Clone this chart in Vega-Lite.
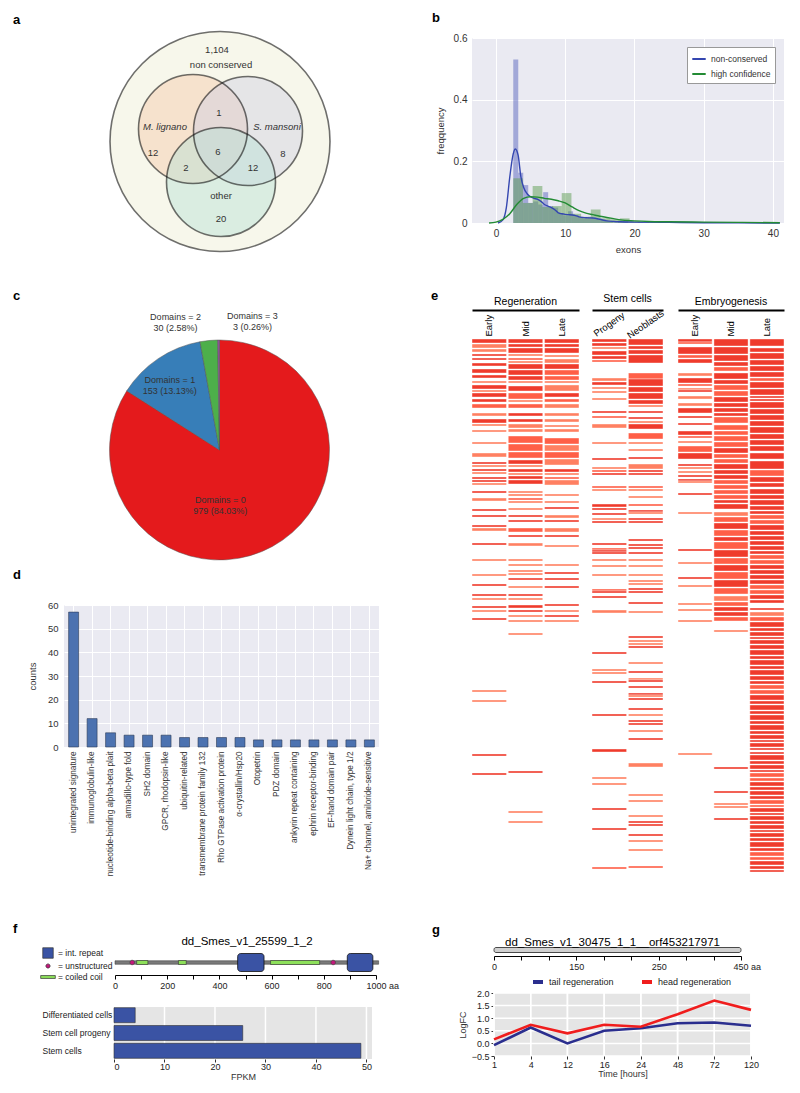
{
"$schema": "https://vega.github.io/schema/vega-lite/v6.json",
"background": "white",
"padding": {"left": 13, "top": 12, "right": 0, "bottom": 0},
"datasets": {
"venn": [{"set":"all","cx":120,"cy":113.5,"r":110},{"set":"M","cx":93,"cy":101,"r":54.5},{"set":"S","cx":148,"cy":103,"r":54.5},{"set":"O","cx":121,"cy":154,"r":54.5}],
"vennlab": [{"t":"1,104","x":117,"y":22,"kind":"count"},{"t":"non conserved","x":121,"y":37,"kind":"count"},{"t":"M. lignano","x":65,"y":99,"kind":"species"},{"t":"S. mansoni","x":177,"y":99,"kind":"species"},{"t":"12","x":53,"y":125,"kind":"count"},{"t":"1","x":119,"y":85,"kind":"count"},{"t":"6","x":118,"y":124,"kind":"count"},{"t":"8","x":183,"y":126,"kind":"count"},{"t":"2","x":86,"y":140,"kind":"count"},{"t":"12","x":153,"y":140,"kind":"count"},{"t":"other","x":121,"y":168,"kind":"count"},{"t":"20","x":121,"y":191,"kind":"count"}],
"hist": [
{"s":"non-conserved","x0":2.5,"x1":3.22,"f":0.53},{"s":"non-conserved","x0":3.22,"x1":3.94,"f":0.163},{"s":"non-conserved","x0":3.94,"x1":4.66,"f":0.123},{"s":"non-conserved","x0":4.66,"x1":5.38,"f":0.065},{"s":"non-conserved","x0":5.38,"x1":6.1,"f":0.07},{"s":"non-conserved","x0":6.1,"x1":6.82,"f":0.06},{"s":"non-conserved","x0":6.82,"x1":7.54,"f":0.1},{"s":"non-conserved","x0":7.54,"x1":8.26,"f":0.055},{"s":"non-conserved","x0":8.26,"x1":8.98,"f":0.05},{"s":"non-conserved","x0":8.98,"x1":9.7,"f":0.03},{"s":"non-conserved","x0":9.7,"x1":10.42,"f":0.025},{"s":"non-conserved","x0":10.42,"x1":11.14,"f":0.038},{"s":"non-conserved","x0":11.14,"x1":11.86,"f":0.025},{"s":"non-conserved","x0":11.86,"x1":12.58,"f":0.02},{"s":"non-conserved","x0":12.58,"x1":13.3,"f":0.015},{"s":"non-conserved","x0":13.3,"x1":14.02,"f":0.02},{"s":"non-conserved","x0":14.02,"x1":14.74,"f":0.015},{"s":"non-conserved","x0":14.74,"x1":15.46,"f":0.01},{"s":"non-conserved","x0":15.46,"x1":16.18,"f":0.008},{"s":"non-conserved","x0":16.18,"x1":16.9,"f":0.006},{"s":"non-conserved","x0":17.62,"x1":18.34,"f":0.005},{"s":"non-conserved","x0":18.34,"x1":19.06,"f":0.008},{"s":"non-conserved","x0":20.5,"x1":21.22,"f":0.003},{"s":"non-conserved","x0":24,"x1":24.72,"f":0.002},{"s":"non-conserved","x0":29.7,"x1":30.42,"f":0.002},{"s":"non-conserved","x0":35.5,"x1":36.2,"f":0.001},
{"s":"high confidence","x0":2.5,"x1":3.9,"f":0.145},{"s":"high confidence","x0":3.9,"x1":5.3,"f":0.065},{"s":"high confidence","x0":5.3,"x1":6.7,"f":0.12},{"s":"high confidence","x0":6.7,"x1":8.1,"f":0.052},{"s":"high confidence","x0":8.1,"x1":9.5,"f":0.055},{"s":"high confidence","x0":9.5,"x1":10.9,"f":0.097},{"s":"high confidence","x0":10.9,"x1":12.3,"f":0.03},{"s":"high confidence","x0":12.3,"x1":13.7,"f":0.02},{"s":"high confidence","x0":13.7,"x1":15.1,"f":0.044},{"s":"high confidence","x0":15.1,"x1":16.5,"f":0.015},{"s":"high confidence","x0":16.5,"x1":17.9,"f":0.012},{"s":"high confidence","x0":17.9,"x1":19.3,"f":0.015},{"s":"high confidence","x0":19.3,"x1":20.7,"f":0.005},{"s":"high confidence","x0":20.7,"x1":22.1,"f":0.004},{"s":"high confidence","x0":23.5,"x1":24.9,"f":0.003},{"s":"high confidence","x0":27.7,"x1":29.1,"f":0.002},{"s":"high confidence","x0":33.3,"x1":34.7,"f":0.001},{"s":"high confidence","x0":39,"x1":40.4,"f":0.002}],
"kde": [
{"s":"non-conserved","x":0.3,"y":0},{"s":"non-conserved","x":1,"y":0.01},{"s":"non-conserved","x":1.5,"y":0.05},{"s":"non-conserved","x":2,"y":0.15},{"s":"non-conserved","x":2.5,"y":0.225},{"s":"non-conserved","x":2.8,"y":0.24},{"s":"non-conserved","x":3.2,"y":0.22},{"s":"non-conserved","x":3.6,"y":0.15},{"s":"non-conserved","x":4,"y":0.115},{"s":"non-conserved","x":4.5,"y":0.095},{"s":"non-conserved","x":5,"y":0.085},{"s":"non-conserved","x":5.5,"y":0.08},{"s":"non-conserved","x":6,"y":0.077},{"s":"non-conserved","x":6.5,"y":0.07},{"s":"non-conserved","x":7,"y":0.06},{"s":"non-conserved","x":7.5,"y":0.055},{"s":"non-conserved","x":8,"y":0.05},{"s":"non-conserved","x":8.5,"y":0.043},{"s":"non-conserved","x":9,"y":0.033},{"s":"non-conserved","x":9.5,"y":0.03},{"s":"non-conserved","x":10,"y":0.028},{"s":"non-conserved","x":10.5,"y":0.027},{"s":"non-conserved","x":11,"y":0.026},{"s":"non-conserved","x":11.5,"y":0.024},{"s":"non-conserved","x":12,"y":0.02},{"s":"non-conserved","x":13,"y":0.017},{"s":"non-conserved","x":14,"y":0.016},{"s":"non-conserved","x":15,"y":0.012},{"s":"non-conserved","x":16,"y":0.007},{"s":"non-conserved","x":17,"y":0.005},{"s":"non-conserved","x":18,"y":0.004},{"s":"non-conserved","x":20,"y":0.003},{"s":"non-conserved","x":25,"y":0.002},{"s":"non-conserved","x":30,"y":0.001},{"s":"non-conserved","x":35,"y":0.0005},{"s":"non-conserved","x":41,"y":0},
{"s":"high confidence","x":-1,"y":0},{"s":"high confidence","x":0,"y":0.003},{"s":"high confidence","x":1,"y":0.012},{"s":"high confidence","x":2,"y":0.03},{"s":"high confidence","x":3,"y":0.06},{"s":"high confidence","x":4,"y":0.08},{"s":"high confidence","x":5,"y":0.085},{"s":"high confidence","x":6,"y":0.084},{"s":"high confidence","x":7,"y":0.08},{"s":"high confidence","x":8,"y":0.077},{"s":"high confidence","x":9,"y":0.072},{"s":"high confidence","x":10,"y":0.065},{"s":"high confidence","x":11,"y":0.052},{"s":"high confidence","x":12,"y":0.04},{"s":"high confidence","x":13,"y":0.032},{"s":"high confidence","x":14,"y":0.027},{"s":"high confidence","x":15,"y":0.022},{"s":"high confidence","x":16,"y":0.018},{"s":"high confidence","x":17,"y":0.014},{"s":"high confidence","x":18,"y":0.01},{"s":"high confidence","x":20,"y":0.007},{"s":"high confidence","x":22,"y":0.005},{"s":"high confidence","x":25,"y":0.004},{"s":"high confidence","x":30,"y":0.003},{"s":"high confidence","x":35,"y":0.002},{"s":"high confidence","x":41,"y":0.001}],
"pie": [{"k":"Domains = 0","n":979,"lab":["Domains = 0","979 (84.03%)"]},{"k":"Domains = 1","n":153,"lab":["Domains = 1","153 (13.13%)"]},{"k":"Domains = 2","n":30,"lab":["Domains = 2","30 (2.58%)"]},{"k":"Domains = 3","n":3,"lab":["Domains = 3","3 (0.26%)"]}],
"dom": [{"name":"unintegrated signature","count":57},{"name":"immunoglobulin-like","count":12},{"name":"nucleotide-binding alpha-beta plait","count":6},{"name":"armadillo-type fold","count":5},{"name":"SH2 domain","count":5},{"name":"GPCR, rhodopsin-like","count":5},{"name":"ubiquitin-related","count":4},{"name":"transmembrane protein family 132","count":4},{"name":"Rho GTPase activation protein","count":4},{"name":"α-crystallin/Hsp20","count":4},{"name":"Otopetrin","count":3},{"name":"PDZ domain","count":3},{"name":"ankyrin repeat containing","count":3},{"name":"ephrin receptor-binding","count":3},{"name":"EF-hand domain pair","count":3},{"name":"Dynein light chain, type 1/2","count":3},{"name":"Na+ channel, amiloride-sensitive","count":3}],
"prot": [{"track":"p","kind":"backbone","s":0,"e":1010},{"track":"p","kind":"int. repeat","s":470,"e":571},{"track":"p","kind":"int. repeat","s":890,"e":988},{"track":"p","kind":"coiled coil","s":83,"e":126},{"track":"p","kind":"coiled coil","s":243,"e":273},{"track":"p","kind":"coiled coil","s":596,"e":784},{"track":"p","kind":"unstructured","s":66},{"track":"p","kind":"unstructured","s":836}],
"fpkm": [{"cell":"Differentiated cells","fpkm":4.2},{"cell":"Stem cell progeny","fpkm":25.5},{"cell":"Stem cells","fpkm":48.9}],
"fgrid": [{"v":10},{"v":20},{"v":30},{"v":40},{"v":50}],
"prot2": [{"track":"p","s":0,"e":450}],
"lfy": [{"y":-0.5},{"y":0},{"y":0.5},{"y":1},{"y":1.5},{"y":2}],
"logfc": [{"s":"tail regeneration","t":1,"fc":-0.07},{"s":"tail regeneration","t":4,"fc":0.63},{"s":"tail regeneration","t":12,"fc":0.0},{"s":"tail regeneration","t":16,"fc":0.5},{"s":"tail regeneration","t":24,"fc":0.6},{"s":"tail regeneration","t":48,"fc":0.8},{"s":"tail regeneration","t":72,"fc":0.83},{"s":"tail regeneration","t":120,"fc":0.7},{"s":"head regeneration","t":1,"fc":0.16},{"s":"head regeneration","t":4,"fc":0.74},{"s":"head regeneration","t":12,"fc":0.4},{"s":"head regeneration","t":16,"fc":0.74},{"s":"head regeneration","t":24,"fc":0.66},{"s":"head regeneration","t":48,"fc":1.16},{"s":"head regeneration","t":72,"fc":1.7},{"s":"head regeneration","t":120,"fc":1.33}],
"hm": [
{"g":"R","c":"Early","a":0,"b":4,"v":1},{"g":"R","c":"Early","a":5,"b":9,"v":0.5},{"g":"R","c":"Early","a":10,"b":13,"v":0.5},{"g":"R","c":"Early","a":15,"b":17,"v":1},{"g":"R","c":"Early","a":19,"b":21,"v":1},{"g":"R","c":"Early","a":24,"b":27,"v":1},{"g":"R","c":"Early","a":30,"b":34,"v":1},{"g":"R","c":"Early","a":36,"b":39,"v":1},{"g":"R","c":"Early","a":42,"b":44,"v":0.5},{"g":"R","c":"Early","a":46,"b":50,"v":1},{"g":"R","c":"Early","a":51,"b":53,"v":0.5},{"g":"R","c":"Early","a":54,"b":58,"v":1},{"g":"R","c":"Early","a":60,"b":63,"v":1},{"g":"R","c":"Early","a":65,"b":69,"v":0.75},{"g":"R","c":"Early","a":74,"b":77,"v":0.5},{"g":"R","c":"Early","a":80,"b":84,"v":1},{"g":"R","c":"Early","a":85,"b":87,"v":0.5},{"g":"R","c":"Early","a":91,"b":93,"v":0.5},{"g":"R","c":"Early","a":103,"b":105,"v":0.5},{"g":"R","c":"Early","a":114,"b":118,"v":0.5},{"g":"R","c":"Early","a":123,"b":125,"v":1},{"g":"R","c":"Early","a":126,"b":128,"v":0.5},{"g":"R","c":"Early","a":130,"b":132,"v":1},{"g":"R","c":"Early","a":133,"b":135,"v":0.5},{"g":"R","c":"Early","a":138,"b":140,"v":1},{"g":"R","c":"Early","a":141,"b":143,"v":1},{"g":"R","c":"Early","a":144,"b":146,"v":0.5},{"g":"R","c":"Early","a":152,"b":154,"v":1},{"g":"R","c":"Early","a":159,"b":162,"v":0.5},{"g":"R","c":"Early","a":170,"b":172,"v":1},{"g":"R","c":"Early","a":176,"b":178,"v":1},{"g":"R","c":"Early","a":186,"b":188,"v":1},{"g":"R","c":"Early","a":189,"b":192,"v":0.5},{"g":"R","c":"Early","a":204,"b":206,"v":1},{"g":"R","c":"Early","a":220,"b":222,"v":0.5},{"g":"R","c":"Early","a":235,"b":237,"v":0.5},{"g":"R","c":"Early","a":245,"b":247,"v":1},{"g":"R","c":"Early","a":255,"b":257,"v":1},{"g":"R","c":"Early","a":259,"b":261,"v":0.5},{"g":"R","c":"Early","a":267,"b":269,"v":1},{"g":"R","c":"Early","a":271,"b":273,"v":0.5},{"g":"R","c":"Early","a":279,"b":281,"v":1},{"g":"R","c":"Early","a":351,"b":353,"v":0.5},{"g":"R","c":"Early","a":361,"b":363,"v":0.5},{"g":"R","c":"Early","a":415,"b":417,"v":1},{"g":"R","c":"Early","a":434,"b":436,"v":1},
{"g":"R","c":"Mid","a":0,"b":4,"v":1},{"g":"R","c":"Mid","a":5,"b":8,"v":1},{"g":"R","c":"Mid","a":9,"b":14,"v":1},{"g":"R","c":"Mid","a":15,"b":17,"v":0.5},{"g":"R","c":"Mid","a":19,"b":21,"v":0.75},{"g":"R","c":"Mid","a":22,"b":24,"v":0.5},{"g":"R","c":"Mid","a":25,"b":30,"v":1},{"g":"R","c":"Mid","a":31,"b":36,"v":1},{"g":"R","c":"Mid","a":37,"b":41,"v":1},{"g":"R","c":"Mid","a":42,"b":44,"v":0.5},{"g":"R","c":"Mid","a":47,"b":52,"v":1},{"g":"R","c":"Mid","a":54,"b":60,"v":0.75},{"g":"R","c":"Mid","a":61,"b":63,"v":0.5},{"g":"R","c":"Mid","a":65,"b":69,"v":0.75},{"g":"R","c":"Mid","a":74,"b":77,"v":1},{"g":"R","c":"Mid","a":80,"b":83,"v":1},{"g":"R","c":"Mid","a":85,"b":89,"v":0.5},{"g":"R","c":"Mid","a":90,"b":93,"v":0.5},{"g":"R","c":"Mid","a":97,"b":104,"v":0.75},{"g":"R","c":"Mid","a":105,"b":112,"v":0.75},{"g":"R","c":"Mid","a":113,"b":119,"v":0.75},{"g":"R","c":"Mid","a":121,"b":125,"v":1},{"g":"R","c":"Mid","a":126,"b":128,"v":0.5},{"g":"R","c":"Mid","a":130,"b":133,"v":1},{"g":"R","c":"Mid","a":134,"b":136,"v":0.5},{"g":"R","c":"Mid","a":137,"b":140,"v":1},{"g":"R","c":"Mid","a":141,"b":145,"v":1},{"g":"R","c":"Mid","a":152,"b":154,"v":0.5},{"g":"R","c":"Mid","a":155,"b":157,"v":0.5},{"g":"R","c":"Mid","a":159,"b":161,"v":0.75},{"g":"R","c":"Mid","a":162,"b":164,"v":0.5},{"g":"R","c":"Mid","a":169,"b":171,"v":0.5},{"g":"R","c":"Mid","a":176,"b":178,"v":1},{"g":"R","c":"Mid","a":181,"b":183,"v":1},{"g":"R","c":"Mid","a":189,"b":193,"v":0.75},{"g":"R","c":"Mid","a":196,"b":198,"v":1},{"g":"R","c":"Mid","a":204,"b":207,"v":0.5},{"g":"R","c":"Mid","a":220,"b":222,"v":0.5},{"g":"R","c":"Mid","a":225,"b":227,"v":0.5},{"g":"R","c":"Mid","a":231,"b":233,"v":0.5},{"g":"R","c":"Mid","a":234,"b":236,"v":0.5},{"g":"R","c":"Mid","a":239,"b":241,"v":1},{"g":"R","c":"Mid","a":247,"b":249,"v":0.5},{"g":"R","c":"Mid","a":255,"b":257,"v":1},{"g":"R","c":"Mid","a":259,"b":261,"v":0.5},{"g":"R","c":"Mid","a":266,"b":269,"v":1},{"g":"R","c":"Mid","a":271,"b":273,"v":1},{"g":"R","c":"Mid","a":276,"b":278,"v":0.5},{"g":"R","c":"Mid","a":281,"b":283,"v":0.5},{"g":"R","c":"Mid","a":294,"b":296,"v":0.5},{"g":"R","c":"Mid","a":432,"b":434,"v":1},{"g":"R","c":"Mid","a":472,"b":474,"v":0.5},{"g":"R","c":"Mid","a":482,"b":484,"v":0.5},
{"g":"R","c":"Late","a":0,"b":4,"v":1},{"g":"R","c":"Late","a":5,"b":8,"v":1},{"g":"R","c":"Late","a":9,"b":14,"v":1},{"g":"R","c":"Late","a":16,"b":18,"v":0.5},{"g":"R","c":"Late","a":20,"b":24,"v":0.5},{"g":"R","c":"Late","a":25,"b":30,"v":1},{"g":"R","c":"Late","a":31,"b":36,"v":0.75},{"g":"R","c":"Late","a":37,"b":41,"v":0.75},{"g":"R","c":"Late","a":42,"b":44,"v":0.5},{"g":"R","c":"Late","a":46,"b":52,"v":0.5},{"g":"R","c":"Late","a":54,"b":58,"v":1},{"g":"R","c":"Late","a":60,"b":63,"v":0.75},{"g":"R","c":"Late","a":65,"b":69,"v":0.5},{"g":"R","c":"Late","a":74,"b":77,"v":0.5},{"g":"R","c":"Late","a":80,"b":83,"v":0.5},{"g":"R","c":"Late","a":86,"b":88,"v":0.5},{"g":"R","c":"Late","a":90,"b":93,"v":0.5},{"g":"R","c":"Late","a":99,"b":105,"v":0.75},{"g":"R","c":"Late","a":106,"b":112,"v":0.5},{"g":"R","c":"Late","a":113,"b":119,"v":0.75},{"g":"R","c":"Late","a":120,"b":126,"v":0.5},{"g":"R","c":"Late","a":130,"b":133,"v":1},{"g":"R","c":"Late","a":134,"b":136,"v":0.5},{"g":"R","c":"Late","a":138,"b":140,"v":0.75},{"g":"R","c":"Late","a":141,"b":146,"v":0.5},{"g":"R","c":"Late","a":155,"b":157,"v":0.5},{"g":"R","c":"Late","a":162,"b":164,"v":0.5},{"g":"R","c":"Late","a":168,"b":170,"v":1},{"g":"R","c":"Late","a":176,"b":179,"v":0.5},{"g":"R","c":"Late","a":181,"b":183,"v":1},{"g":"R","c":"Late","a":189,"b":193,"v":0.5},{"g":"R","c":"Late","a":196,"b":198,"v":1},{"g":"R","c":"Late","a":206,"b":208,"v":0.5},{"g":"R","c":"Late","a":225,"b":227,"v":0.5},{"g":"R","c":"Late","a":233,"b":235,"v":1},{"g":"R","c":"Late","a":239,"b":241,"v":1},{"g":"R","c":"Late","a":247,"b":249,"v":1},{"g":"R","c":"Late","a":265,"b":267,"v":1},{"g":"R","c":"Late","a":271,"b":273,"v":0.5},{"g":"R","c":"Late","a":276,"b":278,"v":1},{"g":"R","c":"Late","a":281,"b":283,"v":0.5},
{"g":"S","c":"Progeny","a":0,"b":3,"v":1},{"g":"S","c":"Progeny","a":4,"b":7,"v":1},{"g":"S","c":"Progeny","a":8,"b":10,"v":0.5},{"g":"S","c":"Progeny","a":12,"b":16,"v":1},{"g":"S","c":"Progeny","a":17,"b":20,"v":1},{"g":"S","c":"Progeny","a":21,"b":23,"v":0.75},{"g":"S","c":"Progeny","a":39,"b":42,"v":0.5},{"g":"S","c":"Progeny","a":43,"b":46,"v":1},{"g":"S","c":"Progeny","a":48,"b":50,"v":0.5},{"g":"S","c":"Progeny","a":52,"b":54,"v":0.5},{"g":"S","c":"Progeny","a":59,"b":61,"v":0.5},{"g":"S","c":"Progeny","a":72,"b":74,"v":1},{"g":"S","c":"Progeny","a":77,"b":79,"v":0.75},{"g":"S","c":"Progeny","a":85,"b":89,"v":0.5},{"g":"S","c":"Progeny","a":103,"b":105,"v":0.5},{"g":"S","c":"Progeny","a":119,"b":121,"v":1},{"g":"S","c":"Progeny","a":128,"b":130,"v":0.5},{"g":"S","c":"Progeny","a":131,"b":133,"v":0.75},{"g":"S","c":"Progeny","a":134,"b":136,"v":1},{"g":"S","c":"Progeny","a":147,"b":149,"v":0.75},{"g":"S","c":"Progeny","a":150,"b":152,"v":0.5},{"g":"S","c":"Progeny","a":165,"b":168,"v":1},{"g":"S","c":"Progeny","a":169,"b":171,"v":1},{"g":"S","c":"Progeny","a":174,"b":176,"v":1},{"g":"S","c":"Progeny","a":179,"b":181,"v":0.5},{"g":"S","c":"Progeny","a":182,"b":184,"v":1},{"g":"S","c":"Progeny","a":204,"b":206,"v":1},{"g":"S","c":"Progeny","a":209,"b":211,"v":0.75},{"g":"S","c":"Progeny","a":211,"b":213,"v":1},{"g":"S","c":"Progeny","a":213,"b":215,"v":1},{"g":"S","c":"Progeny","a":220,"b":222,"v":0.5},{"g":"S","c":"Progeny","a":226,"b":228,"v":0.5},{"g":"S","c":"Progeny","a":235,"b":237,"v":0.5},{"g":"S","c":"Progeny","a":250,"b":252,"v":0.75},{"g":"S","c":"Progeny","a":252,"b":254,"v":1},{"g":"S","c":"Progeny","a":257,"b":259,"v":1},{"g":"S","c":"Progeny","a":271,"b":274,"v":0.5},{"g":"S","c":"Progeny","a":313,"b":315,"v":1},{"g":"S","c":"Progeny","a":330,"b":332,"v":0.5},{"g":"S","c":"Progeny","a":333,"b":335,"v":0.5},{"g":"S","c":"Progeny","a":342,"b":344,"v":1},{"g":"S","c":"Progeny","a":375,"b":377,"v":1},{"g":"S","c":"Progeny","a":410,"b":413,"v":1},{"g":"S","c":"Progeny","a":438,"b":440,"v":0.5},{"g":"S","c":"Progeny","a":444,"b":446,"v":0.5},{"g":"S","c":"Progeny","a":469,"b":471,"v":1},{"g":"S","c":"Progeny","a":489,"b":491,"v":1},{"g":"S","c":"Progeny","a":528,"b":530,"v":0.75},
{"g":"S","c":"Neoblasts","a":0,"b":6,"v":1},{"g":"S","c":"Neoblasts","a":7,"b":10,"v":1},{"g":"S","c":"Neoblasts","a":11,"b":15,"v":1},{"g":"S","c":"Neoblasts","a":16,"b":24,"v":1},{"g":"S","c":"Neoblasts","a":34,"b":40,"v":0.75},{"g":"S","c":"Neoblasts","a":40,"b":47,"v":1},{"g":"S","c":"Neoblasts","a":48,"b":53,"v":1},{"g":"S","c":"Neoblasts","a":54,"b":60,"v":1},{"g":"S","c":"Neoblasts","a":61,"b":65,"v":1},{"g":"S","c":"Neoblasts","a":66,"b":68,"v":0.5},{"g":"S","c":"Neoblasts","a":72,"b":74,"v":1},{"g":"S","c":"Neoblasts","a":78,"b":80,"v":1},{"g":"S","c":"Neoblasts","a":82,"b":84,"v":0.5},{"g":"S","c":"Neoblasts","a":85,"b":90,"v":1},{"g":"S","c":"Neoblasts","a":94,"b":100,"v":0.75},{"g":"S","c":"Neoblasts","a":103,"b":105,"v":0.5},{"g":"S","c":"Neoblasts","a":110,"b":112,"v":0.5},{"g":"S","c":"Neoblasts","a":118,"b":120,"v":1},{"g":"S","c":"Neoblasts","a":125,"b":130,"v":0.5},{"g":"S","c":"Neoblasts","a":131,"b":133,"v":1},{"g":"S","c":"Neoblasts","a":134,"b":136,"v":1},{"g":"S","c":"Neoblasts","a":147,"b":149,"v":0.75},{"g":"S","c":"Neoblasts","a":150,"b":152,"v":0.5},{"g":"S","c":"Neoblasts","a":157,"b":159,"v":0.5},{"g":"S","c":"Neoblasts","a":165,"b":167,"v":0.75},{"g":"S","c":"Neoblasts","a":171,"b":173,"v":1},{"g":"S","c":"Neoblasts","a":173,"b":175,"v":0.5},{"g":"S","c":"Neoblasts","a":179,"b":181,"v":1},{"g":"S","c":"Neoblasts","a":182,"b":184,"v":1},{"g":"S","c":"Neoblasts","a":200,"b":202,"v":1},{"g":"S","c":"Neoblasts","a":205,"b":207,"v":1},{"g":"S","c":"Neoblasts","a":208,"b":210,"v":1},{"g":"S","c":"Neoblasts","a":213,"b":215,"v":1},{"g":"S","c":"Neoblasts","a":220,"b":222,"v":0.5},{"g":"S","c":"Neoblasts","a":226,"b":228,"v":0.5},{"g":"S","c":"Neoblasts","a":235,"b":237,"v":0.5},{"g":"S","c":"Neoblasts","a":241,"b":243,"v":0.5},{"g":"S","c":"Neoblasts","a":244,"b":246,"v":0.5},{"g":"S","c":"Neoblasts","a":249,"b":251,"v":1},{"g":"S","c":"Neoblasts","a":252,"b":254,"v":1},{"g":"S","c":"Neoblasts","a":263,"b":265,"v":1},{"g":"S","c":"Neoblasts","a":272,"b":274,"v":0.5},{"g":"S","c":"Neoblasts","a":297,"b":299,"v":1},{"g":"S","c":"Neoblasts","a":301,"b":303,"v":0.5},{"g":"S","c":"Neoblasts","a":304,"b":306,"v":0.5},{"g":"S","c":"Neoblasts","a":307,"b":309,"v":1},{"g":"S","c":"Neoblasts","a":323,"b":325,"v":0.5},{"g":"S","c":"Neoblasts","a":332,"b":334,"v":1},{"g":"S","c":"Neoblasts","a":339,"b":341,"v":0.5},{"g":"S","c":"Neoblasts","a":341,"b":343,"v":1},{"g":"S","c":"Neoblasts","a":347,"b":349,"v":1},{"g":"S","c":"Neoblasts","a":354,"b":356,"v":1},{"g":"S","c":"Neoblasts","a":356,"b":358,"v":0.5},{"g":"S","c":"Neoblasts","a":359,"b":361,"v":1},{"g":"S","c":"Neoblasts","a":369,"b":371,"v":1},{"g":"S","c":"Neoblasts","a":375,"b":377,"v":0.5},{"g":"S","c":"Neoblasts","a":381,"b":383,"v":1},{"g":"S","c":"Neoblasts","a":384,"b":386,"v":1},{"g":"S","c":"Neoblasts","a":391,"b":393,"v":0.5},{"g":"S","c":"Neoblasts","a":399,"b":401,"v":1},{"g":"S","c":"Neoblasts","a":424,"b":428,"v":0.5},{"g":"S","c":"Neoblasts","a":455,"b":457,"v":0.5},{"g":"S","c":"Neoblasts","a":461,"b":463,"v":0.5},{"g":"S","c":"Neoblasts","a":476,"b":478,"v":0.5},{"g":"S","c":"Neoblasts","a":482,"b":484,"v":1},{"g":"S","c":"Neoblasts","a":485,"b":487,"v":1},{"g":"S","c":"Neoblasts","a":495,"b":497,"v":1},{"g":"S","c":"Neoblasts","a":501,"b":503,"v":0.5},{"g":"S","c":"Neoblasts","a":510,"b":512,"v":0.5},{"g":"S","c":"Neoblasts","a":527,"b":529,"v":0.75},
{"g":"E","c":"Early","a":0,"b":3,"v":1},{"g":"E","c":"Early","a":3,"b":5,"v":0.75},{"g":"E","c":"Early","a":8,"b":15,"v":1},{"g":"E","c":"Early","a":16,"b":19,"v":0.75},{"g":"E","c":"Early","a":20,"b":24,"v":1},{"g":"E","c":"Early","a":34,"b":37,"v":0.5},{"g":"E","c":"Early","a":39,"b":44,"v":1},{"g":"E","c":"Early","a":45,"b":47,"v":0.75},{"g":"E","c":"Early","a":49,"b":51,"v":0.5},{"g":"E","c":"Early","a":51,"b":53,"v":1},{"g":"E","c":"Early","a":57,"b":60,"v":0.5},{"g":"E","c":"Early","a":64,"b":67,"v":0.5},{"g":"E","c":"Early","a":69,"b":74,"v":1},{"g":"E","c":"Early","a":77,"b":79,"v":1},{"g":"E","c":"Early","a":84,"b":86,"v":1},{"g":"E","c":"Early","a":92,"b":96,"v":1},{"g":"E","c":"Early","a":97,"b":99,"v":0.75},{"g":"E","c":"Early","a":102,"b":104,"v":0.5},{"g":"E","c":"Early","a":107,"b":113,"v":0.75},{"g":"E","c":"Early","a":114,"b":120,"v":1},{"g":"E","c":"Early","a":125,"b":127,"v":1},{"g":"E","c":"Early","a":128,"b":130,"v":0.5},{"g":"E","c":"Early","a":132,"b":134,"v":0.5},{"g":"E","c":"Early","a":136,"b":138,"v":1},{"g":"E","c":"Early","a":140,"b":142,"v":1},{"g":"E","c":"Early","a":142,"b":144,"v":0.5},{"g":"E","c":"Early","a":154,"b":156,"v":1},{"g":"E","c":"Early","a":173,"b":175,"v":0.5},{"g":"E","c":"Early","a":210,"b":212,"v":1},{"g":"E","c":"Early","a":223,"b":225,"v":0.5},{"g":"E","c":"Early","a":238,"b":240,"v":1},{"g":"E","c":"Early","a":246,"b":248,"v":0.5},{"g":"E","c":"Early","a":264,"b":266,"v":0.5},{"g":"E","c":"Early","a":270,"b":272,"v":0.5},{"g":"E","c":"Early","a":281,"b":283,"v":0.5},{"g":"E","c":"Early","a":414,"b":416,"v":0.5},
{"g":"E","c":"Mid","a":0,"b":7,"v":1},{"g":"E","c":"Mid","a":8,"b":15,"v":1},{"g":"E","c":"Mid","a":16,"b":22,"v":1},{"g":"E","c":"Mid","a":23,"b":27,"v":1},{"g":"E","c":"Mid","a":28,"b":32,"v":0.75},{"g":"E","c":"Mid","a":34,"b":40,"v":1},{"g":"E","c":"Mid","a":41,"b":45,"v":1},{"g":"E","c":"Mid","a":46,"b":51,"v":0.75},{"g":"E","c":"Mid","a":52,"b":57,"v":0.75},{"g":"E","c":"Mid","a":58,"b":63,"v":1},{"g":"E","c":"Mid","a":64,"b":68,"v":1},{"g":"E","c":"Mid","a":69,"b":73,"v":1},{"g":"E","c":"Mid","a":74,"b":77,"v":1},{"g":"E","c":"Mid","a":78,"b":84,"v":0.75},{"g":"E","c":"Mid","a":86,"b":91,"v":0.75},{"g":"E","c":"Mid","a":92,"b":96,"v":0.75},{"g":"E","c":"Mid","a":97,"b":102,"v":0.75},{"g":"E","c":"Mid","a":103,"b":108,"v":0.75},{"g":"E","c":"Mid","a":109,"b":114,"v":1},{"g":"E","c":"Mid","a":115,"b":119,"v":0.75},{"g":"E","c":"Mid","a":120,"b":124,"v":0.75},{"g":"E","c":"Mid","a":125,"b":130,"v":1},{"g":"E","c":"Mid","a":131,"b":135,"v":1},{"g":"E","c":"Mid","a":136,"b":140,"v":1},{"g":"E","c":"Mid","a":141,"b":145,"v":0.75},{"g":"E","c":"Mid","a":146,"b":150,"v":0.75},{"g":"E","c":"Mid","a":151,"b":155,"v":0.75},{"g":"E","c":"Mid","a":156,"b":160,"v":0.75},{"g":"E","c":"Mid","a":161,"b":164,"v":1},{"g":"E","c":"Mid","a":165,"b":170,"v":1},{"g":"E","c":"Mid","a":173,"b":177,"v":0.5},{"g":"E","c":"Mid","a":178,"b":183,"v":0.75},{"g":"E","c":"Mid","a":184,"b":190,"v":1},{"g":"E","c":"Mid","a":191,"b":197,"v":0.75},{"g":"E","c":"Mid","a":198,"b":202,"v":1},{"g":"E","c":"Mid","a":203,"b":210,"v":0.75},{"g":"E","c":"Mid","a":211,"b":218,"v":1},{"g":"E","c":"Mid","a":219,"b":225,"v":0.75},{"g":"E","c":"Mid","a":226,"b":232,"v":1},{"g":"E","c":"Mid","a":233,"b":240,"v":0.75},{"g":"E","c":"Mid","a":241,"b":248,"v":1},{"g":"E","c":"Mid","a":249,"b":255,"v":0.75},{"g":"E","c":"Mid","a":257,"b":262,"v":0.5},{"g":"E","c":"Mid","a":263,"b":267,"v":0.75},{"g":"E","c":"Mid","a":268,"b":272,"v":1},{"g":"E","c":"Mid","a":273,"b":277,"v":1},{"g":"E","c":"Mid","a":278,"b":282,"v":0.75},{"g":"E","c":"Mid","a":291,"b":293,"v":0.5},{"g":"E","c":"Mid","a":428,"b":430,"v":1},{"g":"E","c":"Mid","a":452,"b":454,"v":1},{"g":"E","c":"Mid","a":464,"b":466,"v":0.5},{"g":"E","c":"Mid","a":467,"b":469,"v":0.5},{"g":"E","c":"Mid","a":479,"b":481,"v":1},
{"g":"E","c":"Late","a":0,"b":7,"v":1},{"g":"E","c":"Late","a":9,"b":13,"v":1},{"g":"E","c":"Late","a":14,"b":20,"v":1},{"g":"E","c":"Late","a":21,"b":26,"v":1},{"g":"E","c":"Late","a":27,"b":32,"v":1},{"g":"E","c":"Late","a":33,"b":38,"v":1},{"g":"E","c":"Late","a":39,"b":42,"v":0.75},{"g":"E","c":"Late","a":43,"b":49,"v":1},{"g":"E","c":"Late","a":50,"b":56,"v":1},{"g":"E","c":"Late","a":57,"b":59,"v":1},{"g":"E","c":"Late","a":60,"b":62,"v":1},{"g":"E","c":"Late","a":63,"b":69,"v":1},{"g":"E","c":"Late","a":70,"b":75,"v":1},{"g":"E","c":"Late","a":76,"b":81,"v":1},{"g":"E","c":"Late","a":82,"b":87,"v":1},{"g":"E","c":"Late","a":88,"b":94,"v":1},{"g":"E","c":"Late","a":95,"b":100,"v":1},{"g":"E","c":"Late","a":101,"b":106,"v":1},{"g":"E","c":"Late","a":107,"b":112,"v":1},{"g":"E","c":"Late","a":114,"b":120,"v":1},{"g":"E","c":"Late","a":122,"b":130,"v":1},{"g":"E","c":"Late","a":131,"b":137,"v":0.75},{"g":"E","c":"Late","a":138,"b":143,"v":1},{"g":"E","c":"Late","a":144,"b":148,"v":1},{"g":"E","c":"Late","a":150,"b":155,"v":1},{"g":"E","c":"Late","a":156,"b":160,"v":1},{"g":"E","c":"Late","a":161,"b":166,"v":1},{"g":"E","c":"Late","a":167,"b":171,"v":1},{"g":"E","c":"Late","a":172,"b":175,"v":1},{"g":"E","c":"Late","a":176,"b":180,"v":0.75},{"g":"E","c":"Late","a":181,"b":185,"v":0.75},{"g":"E","c":"Late","a":186,"b":191,"v":1},{"g":"E","c":"Late","a":192,"b":196,"v":1},{"g":"E","c":"Late","a":197,"b":201,"v":1},{"g":"E","c":"Late","a":202,"b":206,"v":1},{"g":"E","c":"Late","a":207,"b":211,"v":1},{"g":"E","c":"Late","a":212,"b":215,"v":1},{"g":"E","c":"Late","a":216,"b":220,"v":0.75},{"g":"E","c":"Late","a":221,"b":225,"v":0.75},{"g":"E","c":"Late","a":226,"b":230,"v":1},{"g":"E","c":"Late","a":231,"b":235,"v":1},{"g":"E","c":"Late","a":236,"b":240,"v":1},{"g":"E","c":"Late","a":241,"b":245,"v":1},{"g":"E","c":"Late","a":246,"b":250,"v":0.75},{"g":"E","c":"Late","a":251,"b":255,"v":0.75},{"g":"E","c":"Late","a":256,"b":260,"v":1},{"g":"E","c":"Late","a":261,"b":264,"v":1},{"g":"E","c":"Late","a":269,"b":271,"v":1},{"g":"E","c":"Late","a":273,"b":277,"v":0.5},{"g":"E","c":"Late","a":278,"b":282,"v":0.75},{"g":"E","c":"Late","a":283,"b":288,"v":1},{"g":"E","c":"Late","a":289,"b":292,"v":1},{"g":"E","c":"Late","a":293,"b":297,"v":1},{"g":"E","c":"Late","a":298,"b":300,"v":1},{"g":"E","c":"Late","a":301,"b":305,"v":1},{"g":"E","c":"Late","a":306,"b":310,"v":1},{"g":"E","c":"Late","a":311,"b":316,"v":1},{"g":"E","c":"Late","a":317,"b":320,"v":1},{"g":"E","c":"Late","a":321,"b":326,"v":1},{"g":"E","c":"Late","a":327,"b":330,"v":1},{"g":"E","c":"Late","a":331,"b":336,"v":1},{"g":"E","c":"Late","a":337,"b":341,"v":1},{"g":"E","c":"Late","a":342,"b":345,"v":1},{"g":"E","c":"Late","a":346,"b":350,"v":0.75},{"g":"E","c":"Late","a":351,"b":355,"v":0.75},{"g":"E","c":"Late","a":356,"b":361,"v":1},{"g":"E","c":"Late","a":362,"b":365,"v":1},{"g":"E","c":"Late","a":366,"b":371,"v":1},{"g":"E","c":"Late","a":372,"b":375,"v":1},{"g":"E","c":"Late","a":376,"b":381,"v":1},{"g":"E","c":"Late","a":382,"b":385,"v":1},{"g":"E","c":"Late","a":386,"b":391,"v":1},{"g":"E","c":"Late","a":392,"b":395,"v":1},{"g":"E","c":"Late","a":396,"b":400,"v":1},{"g":"E","c":"Late","a":401,"b":403,"v":1},{"g":"E","c":"Late","a":404,"b":408,"v":1},{"g":"E","c":"Late","a":409,"b":411,"v":1},{"g":"E","c":"Late","a":413,"b":415,"v":1},{"g":"E","c":"Late","a":416,"b":421,"v":1},{"g":"E","c":"Late","a":422,"b":425,"v":1},{"g":"E","c":"Late","a":426,"b":430,"v":1},{"g":"E","c":"Late","a":431,"b":433,"v":1},{"g":"E","c":"Late","a":434,"b":438,"v":0.75},{"g":"E","c":"Late","a":439,"b":442,"v":0.75},{"g":"E","c":"Late","a":443,"b":447,"v":1},{"g":"E","c":"Late","a":448,"b":451,"v":1},{"g":"E","c":"Late","a":452,"b":456,"v":1},{"g":"E","c":"Late","a":457,"b":460,"v":1},{"g":"E","c":"Late","a":461,"b":465,"v":0.75},{"g":"E","c":"Late","a":466,"b":468,"v":0.75},{"g":"E","c":"Late","a":469,"b":473,"v":1},{"g":"E","c":"Late","a":474,"b":476,"v":1},{"g":"E","c":"Late","a":477,"b":481,"v":1},{"g":"E","c":"Late","a":482,"b":485,"v":1},{"g":"E","c":"Late","a":486,"b":490,"v":1},{"g":"E","c":"Late","a":491,"b":493,"v":1},{"g":"E","c":"Late","a":494,"b":498,"v":1},{"g":"E","c":"Late","a":499,"b":502,"v":1},{"g":"E","c":"Late","a":503,"b":508,"v":1},{"g":"E","c":"Late","a":509,"b":512,"v":1},{"g":"E","c":"Late","a":513,"b":517,"v":0.75},{"g":"E","c":"Late","a":518,"b":521,"v":0.75},{"g":"E","c":"Late","a":522,"b":526,"v":1},{"g":"E","c":"Late","a":527,"b":530,"v":1},{"g":"E","c":"Late","a":531,"b":533,"v":1}
]
},
"spacing": 32,
"resolve": {"scale": {"color": "independent", "fill": "independent", "shape": "independent", "size": "independent"}, "legend": {"color": "independent", "fill": "independent", "shape": "independent", "size": "independent"}},
"config": {
 "font": "Liberation Sans",
 "view": {"stroke": null},
 "axis": {"labelFont": "Liberation Sans", "titleFont": "Liberation Sans", "labelColor": "#333", "titleColor": "#333", "titleFontWeight": "normal"},
 "legend": {"labelFont": "Liberation Sans", "labelColor": "#333"},
 "title": {"font": "Liberation Sans", "color": "#000"}
},
"hconcat": [
 {
  "spacing": 34,
  "resolve": {"scale": {"color": "independent", "fill": "independent", "shape": "independent", "size": "independent"}, "legend": {"color": "independent", "fill": "independent", "shape": "independent", "size": "independent"}},
  "vconcat": [
   {
    "width": 276, "height": 218,
    "title": {"text": "a", "anchor": "start", "frame": "group", "dx": -51, "offset": 1, "fontSize": 13, "fontWeight": "bold"},
    "layer": [
     {"data": {"name": "venn"}, "mark": {"type": "point", "filled": true, "strokeWidth": 0},
      "encoding": {
       "x": {"field": "cx", "type": "quantitative", "scale": {"domain": [-36, 240], "nice": false, "zero": false}, "axis": null},
       "y": {"field": "cy", "type": "quantitative", "scale": {"domain": [10, 228], "nice": false, "zero": false, "reverse": true}, "axis": null},
       "size": {"field": "r", "type": "quantitative", "scale": {"type": "pow", "exponent": 2, "domain": [0, 110], "range": [0, 48400]}, "legend": null},
       "color": {"field": "set", "type": "nominal", "scale": {"domain": ["all", "M", "S", "O"], "range": ["#f4f4e3", "#f4c9aa", "#cfcfe2", "#b6e0d6"]}, "legend": null},
       "fillOpacity": {"condition": {"test": "datum.set === 'all'", "value": 1}, "value": 0.65}
      }
     },
     {"data": {"name": "venn"}, "mark": {"type": "point", "filled": false, "stroke": "#111", "strokeWidth": 1.6, "strokeOpacity": 0.85},
      "encoding": {
       "x": {"field": "cx", "type": "quantitative"},
       "y": {"field": "cy", "type": "quantitative"},
       "size": {"field": "r", "type": "quantitative", "legend": null}
      }
     },
     {"data": {"name": "vennlab"}, "transform": [{"filter": "datum.kind === 'count'"}], "mark": {"type": "text", "fontSize": 9.5, "color": "#333"},
      "encoding": {"x": {"field": "x", "type": "quantitative"}, "y": {"field": "y", "type": "quantitative"}, "text": {"field": "t"}}
     },
     {"data": {"name": "vennlab"}, "transform": [{"filter": "datum.kind === 'species'"}], "mark": {"type": "text", "fontSize": 9.5, "fontStyle": "italic", "color": "#333"},
      "encoding": {"x": {"field": "x", "type": "quantitative"}, "y": {"field": "y", "type": "quantitative"}, "text": {"field": "t"}}
     }
    ]
   },
   {
    "spacing": -4,
    "resolve": {"scale": {"color": "independent", "fill": "independent", "shape": "independent", "size": "independent"}, "legend": {"color": "independent", "fill": "independent", "shape": "independent", "size": "independent"}},
    "vconcat": [
     {
      "width": 311, "height": 220,
      "title": {"text": "c", "anchor": "start", "frame": "group", "dx": -51, "offset": 9, "fontSize": 13, "fontWeight": "bold"},
      "data": {"name": "pie"},
      "encoding": {"theta": {"field": "n", "type": "quantitative", "stack": true}},
      "layer": [
       {"mark": {"type": "arc", "outerRadius": 110, "stroke": "#555", "strokeWidth": 0.5},
        "encoding": {"color": {"field": "k", "type": "nominal", "scale": {"domain": ["Domains = 0", "Domains = 1", "Domains = 2", "Domains = 3"], "range": ["#e41a1c", "#377eb8", "#4daf4a", "#984ea3"]}, "legend": null}}
       },
       {"mark": {"type": "text", "radius": 60, "dx": -28, "dy": -3, "fontSize": 9, "fill": "#333", "lineHeight": 11},
        "encoding": {"text": {"condition": {"test": "datum.k === 'Domains = 0'", "field": "lab"}, "value": ""}}
       },
       {"mark": {"type": "text", "radius": 82, "dx": -4, "dy": -2, "fontSize": 9, "fill": "#333", "lineHeight": 11},
        "encoding": {"text": {"condition": {"test": "datum.k === 'Domains = 1'", "field": "lab"}, "value": ""}}
       },
       {"mark": {"type": "text", "radius": 134, "dx": -31, "fontSize": 9, "fill": "#333", "lineHeight": 11},
        "encoding": {"text": {"condition": {"test": "datum.k === 'Domains = 2'", "field": "lab"}, "value": ""}}
       },
       {"mark": {"type": "text", "radius": 134, "dx": 34, "fontSize": 9, "fill": "#333", "lineHeight": 11},
        "encoding": {"text": {"condition": {"test": "datum.k === 'Domains = 3'", "field": "lab"}, "value": ""}}
       }
      ]
     },
     {
      "spacing": 46,
      "resolve": {"scale": {"color": "independent", "fill": "independent", "shape": "independent", "size": "independent"}, "legend": {"color": "independent", "fill": "independent", "shape": "independent", "size": "independent"}},
      "vconcat": [
       {
        "width": 315, "height": 142,
        "view": {"fill": "#eaeaf2"},
        "title": {"text": "d", "anchor": "start", "frame": "group", "dx": -51, "offset": 18, "fontSize": 13, "fontWeight": "bold"},
        "data": {"name": "dom"},
        "mark": {"type": "bar", "color": "#4c72b0", "stroke": "#2b3a55", "strokeWidth": 0.6},
        "encoding": {
         "x": {"field": "name", "type": "nominal", "sort": null, "scale": {"paddingInner": 0.46, "paddingOuter": 0.25},
          "axis": {"title": null, "labelAngle": -90, "labelFontSize": 8.2, "ticks": false, "domain": false, "grid": true, "gridColor": "white", "bandPosition": 0.5, "labelPadding": 4, "labelLimit": 300}},
         "y": {"field": "count", "type": "quantitative", "scale": {"domain": [0, 60], "nice": false},
          "axis": {"values": [0, 10, 20, 30, 40, 50, 60], "title": "counts", "grid": true, "gridColor": "white", "domain": false, "ticks": false, "labelFontSize": 9.5, "titleFontSize": 9.5, "labelPadding": 6, "titlePadding": 10}}
        }
       },
       {
        "spacing": 16,
        "title": {"text": "f", "anchor": "start", "frame": "group", "dx": -51, "offset": 0, "fontSize": 13, "fontWeight": "bold"},
        "resolve": {"scale": {"color": "independent", "fill": "independent", "shape": "independent", "size": "independent"}, "legend": {"color": "independent", "fill": "independent", "shape": "independent", "size": "independent"}},
        "vconcat": [
         {
          "width": 312, "height": 25,
          "title": {"text": "dd_Smes_v1_25599_1_2", "anchor": "middle", "frame": "group", "dx": 27, "fontSize": 11.5, "fontWeight": "normal", "offset": 0},
          "data": {"name": "prot"},
          "encoding": {
           "x": {"field": "s", "type": "quantitative", "scale": {"domain": [0, 1000], "range": [51, 312], "nice": false, "zero": false},
            "axis": {"values": [0, 100, 200, 300, 400, 500, 600, 700, 800, 900, 1000], "labelExpr": "datum.value % 200 === 0 ? (datum.value === 1000 ? '1000 aa' : datum.label) : ''", "labelAlign": {"condition": {"test": "datum.value === 1000", "value": "left"}, "value": "center"}, "labelOffset": {"condition": {"test": "datum.value === 1000", "value": -10}, "value": 0}, "labelOverlap": false, "title": null, "grid": false, "domainColor": "#000", "tickColor": "#000", "tickSize": 4, "labelFontSize": 9, "labelPadding": 2, "labelColor": "#222"}},
           "y": {"field": "track", "type": "nominal", "scale": {"paddingInner": 0, "paddingOuter": 0}, "axis": null}
          },
          "layer": [
           {"transform": [{"filter": "datum.kind === 'backbone'"}], "mark": {"type": "bar", "size": 3.5, "color": "#7a7a7a", "stroke": "#333", "strokeWidth": 0.5},
            "encoding": {"x2": {"field": "e"}}
           },
           {"transform": [{"filter": "datum.kind === 'int. repeat'"}], "mark": {"type": "bar", "size": 18, "cornerRadius": 3, "stroke": "#111", "strokeWidth": 0.8},
            "encoding": {
             "x2": {"field": "e"},
             "fill": {"field": "kind", "type": "nominal", "scale": {"domain": ["int. repeat", "unstructured", "coiled coil"], "range": ["#3a53a4", "#c2187a", "#8de05a"]},
              "legend": {"title": null, "orient": "none", "legendX": -22, "legendY": -3, "labelExpr": "'= ' + datum.label", "labelFontSize": 8.5, "labelColor": "#222", "symbolSize": 110, "symbolStrokeColor": "#222", "symbolStrokeWidth": 0.7, "rowPadding": 0, "labelOffset": 4}}
            }
           },
           {"transform": [{"filter": "datum.kind === 'coiled coil'"}], "mark": {"type": "bar", "size": 4, "stroke": "#333", "strokeWidth": 0.6},
            "encoding": {"x2": {"field": "e"}, "fill": {"field": "kind", "type": "nominal"}}
           },
           {"transform": [{"filter": "datum.kind === 'unstructured'"}], "mark": {"type": "point", "filled": true, "size": 130, "stroke": "#333", "strokeWidth": 0.5, "opacity": 1},
            "encoding": {
             "fill": {"field": "kind", "type": "nominal"},
             "shape": {"field": "kind", "type": "nominal", "scale": {"domain": ["int. repeat", "unstructured", "coiled coil"], "range": ["M-1,-1H1V1H-1Z", "M-0.4,0A0.4,0.4,0,1,0,0.4,0A0.4,0.4,0,1,0,-0.4,0Z", "M-1.4,-0.28H1.4V0.28H-1.4Z"]},
              "legend": {"title": null, "orient": "none", "legendX": -22, "legendY": -3, "labelExpr": "'= ' + datum.label", "labelFontSize": 8.5, "labelColor": "#222", "symbolSize": 110, "symbolStrokeColor": "#222", "symbolStrokeWidth": 0.7, "rowPadding": 0, "labelOffset": 4}}
            }
           }
          ]
         },
         {
          "width": 308, "height": 52,
          "encoding": {
           "x": {"type": "quantitative", "scale": {"domain": [0, 51.1], "range": [50, 308], "nice": false},
            "axis": {"values": [0, 10, 20, 30, 40, 50], "grid": false, "domain": false, "tickColor": "#333", "tickSize": 3, "title": "FPKM", "labelFontSize": 9, "titleFontSize": 9, "labelPadding": 0, "titlePadding": 1, "labelColor": "#222"}}
          },
          "layer": [
           {"data": {"name": "fpkm"}, "mark": {"type": "rect", "color": "#e5e5e5"},
            "encoding": {"x": {"datum": 0, "type": "quantitative"}, "x2": {"datum": 51.1}}
           },
           {"data": {"name": "fgrid"}, "mark": {"type": "rule", "color": "white", "strokeWidth": 1.5},
            "encoding": {"x": {"field": "v", "type": "quantitative"}}
           },
           {"data": {"name": "fpkm"}, "mark": {"type": "bar", "color": "#3a53a4", "stroke": "#333", "strokeWidth": 0.6},
            "encoding": {
             "x": {"field": "fpkm", "type": "quantitative"},
             "y": {"field": "cell", "type": "nominal", "sort": null, "scale": {"paddingInner": 0.16, "paddingOuter": 0.04},
              "axis": {"title": null, "ticks": false, "domain": false, "labelAlign": "left", "labelPadding": 22, "labelFontSize": 8.5, "labelColor": "#222"}}
            }
           }
          ]
         }
        ]
       }
      ]
     }
    ]
   }
  ]
 },
 {
  "spacing": 36,
  "resolve": {"scale": {"color": "independent", "fill": "independent", "shape": "independent", "size": "independent"}, "legend": {"color": "independent", "fill": "independent", "shape": "independent", "size": "independent"}},
  "vconcat": [
   {
    "width": 312, "height": 185,
    "view": {"fill": "#eaeaf2"},
    "title": {"text": "b", "anchor": "start", "frame": "group", "dx": -40, "offset": 8, "fontSize": 13, "fontWeight": "bold"},
    "layer": [
     {"data": {"name": "hist"}, "transform": [{"filter": "datum.s === 'non-conserved'"}], "mark": {"type": "rect", "color": "#5a66bd", "opacity": 0.5},
      "encoding": {
       "x": {"field": "x0", "type": "quantitative", "scale": {"domain": [-3.46, 41.6], "nice": false, "zero": false},
        "axis": {"values": [0, 5, 10, 15, 20, 25, 30, 35, 40], "grid": true, "gridColor": "white", "domain": false, "ticks": false, "labelFontSize": 10, "labelPadding": 5, "title": "exons", "titleFontSize": 9.5, "titlePadding": 6}},
       "x2": {"field": "x1"},
       "y": {"field": "f", "type": "quantitative", "scale": {"domain": [0, 0.6], "nice": false},
        "axis": {"values": [0, 0.1, 0.2, 0.3, 0.4, 0.5, 0.6], "labelExpr": "datum.value === 0 ? '0' : format(datum.value, '.1f')", "grid": true, "gridColor": "white", "domain": false, "ticks": false, "labelFontSize": 10, "labelPadding": 5, "title": "freqquency", "titleFontSize": 9.5, "titlePadding": 8}},
       "y2": {"datum": 0}
      }
     },
     {"data": {"name": "hist"}, "transform": [{"filter": "datum.s === 'high confidence'"}], "mark": {"type": "rect", "color": "#5e9e52", "opacity": 0.5},
      "encoding": {"x": {"field": "x0", "type": "quantitative"}, "x2": {"field": "x1"}, "y": {"field": "f", "type": "quantitative"}, "y2": {"datum": 0}}
     },
     {"data": {"name": "kde"}, "mark": {"type": "line", "strokeWidth": 1.4, "interpolate": "monotone"},
      "encoding": {
       "x": {"field": "x", "type": "quantitative"},
       "y": {"field": "y", "type": "quantitative"},
       "color": {"field": "s", "type": "nominal", "scale": {"domain": ["non-conserved", "high confidence"], "range": ["#3446b0", "#238b34"]},
        "legend": {"title": null, "orient": "top-right", "offset": 9, "fillColor": "white", "strokeColor": "#999", "padding": 4, "symbolType": "stroke", "symbolStrokeWidth": 2, "symbolSize": 180, "labelFontSize": 8.5, "rowPadding": 2, "labelColor": "#333"}}
      }
     }
    ]
   },
   {
    "spacing": 50,
    "resolve": {"scale": {"color": "independent", "fill": "independent", "shape": "independent", "size": "independent"}, "legend": {"color": "independent", "fill": "independent", "shape": "independent", "size": "independent"}},
    "vconcat": [
     {
      "spacing": 11,
      "title": {"text": "e", "anchor": "start", "frame": "group", "dx": -41, "dy": 13, "fontSize": 13, "fontWeight": "bold"},
      "hconcat": [
       {
        "width": 107, "height": 533,
        "title": {"text": "Regeneration", "anchor": "middle", "frame": "group", "fontSize": 10.5, "fontWeight": "normal", "offset": 3},
        "data": {"name": "hm"},
        "transform": [{"filter": "datum.g === 'R'"}],
        "mark": {"type": "rect", "stroke": "white", "strokeWidth": 0.4},
        "encoding": {
         "x": {"field": "c", "type": "nominal", "sort": ["Early", "Mid", "Late"], "scale": {"paddingInner": 0.05, "paddingOuter": 0},
          "axis": {"orient": "top", "title": null, "ticks": false, "domainColor": "#000", "domainWidth": 2, "offset": 29, "labelAngle": -90, "labelAlign": "left", "labelBaseline": "middle", "labelPadding": -26, "labelFontSize": 9.5, "labelColor": "#000"}},
         "y": {"field": "a", "type": "quantitative", "scale": {"domain": [0, 533], "nice": false, "zero": false, "reverse": true}, "axis": null},
         "y2": {"field": "b"},
         "color": {"field": "v", "type": "quantitative", "scale": {"domain": [0, 1], "range": ["#ffffff", "#ef3b2c"]}, "legend": null}
        }
       },
       {
        "width": 71, "height": 533,
        "title": {"text": "Stem cells", "anchor": "middle", "frame": "group", "fontSize": 10.5, "fontWeight": "normal", "offset": 3},
        "data": {"name": "hm"},
        "transform": [{"filter": "datum.g === 'S'"}],
        "mark": {"type": "rect", "stroke": "white", "strokeWidth": 0.4},
        "encoding": {
         "x": {"field": "c", "type": "nominal", "sort": ["Progeny", "Neoblasts"], "scale": {"paddingInner": 0.05, "paddingOuter": 0},
          "axis": {"orient": "top", "title": null, "ticks": false, "domainColor": "#000", "domainWidth": 2, "offset": 29, "labelAngle": -35, "labelAlign": "center", "labelBaseline": "middle", "labelPadding": -14, "labelFontSize": 9.5, "labelColor": "#000"}},
         "y": {"field": "a", "type": "quantitative", "scale": {"domain": [0, 533], "nice": false, "zero": false, "reverse": true}, "axis": null},
         "y2": {"field": "b"},
         "color": {"field": "v", "type": "quantitative", "scale": {"domain": [0, 1], "range": ["#ffffff", "#ef3b2c"]}, "legend": null}
        }
       },
       {
        "width": 106, "height": 533,
        "title": {"text": "Embryogenesis", "anchor": "middle", "frame": "group", "fontSize": 10.5, "fontWeight": "normal", "offset": 3},
        "data": {"name": "hm"},
        "transform": [{"filter": "datum.g === 'E'"}],
        "mark": {"type": "rect", "stroke": "white", "strokeWidth": 0.4},
        "encoding": {
         "x": {"field": "c", "type": "nominal", "sort": ["Early", "Mid", "Late"], "scale": {"paddingInner": 0.05, "paddingOuter": 0},
          "axis": {"orient": "top", "title": null, "ticks": false, "domainColor": "#000", "domainWidth": 2, "offset": 29, "labelAngle": -90, "labelAlign": "left", "labelBaseline": "middle", "labelPadding": -26, "labelFontSize": 9.5, "labelColor": "#000"}},
         "y": {"field": "a", "type": "quantitative", "scale": {"domain": [0, 533], "nice": false, "zero": false, "reverse": true}, "axis": null},
         "y2": {"field": "b"},
         "color": {"field": "v", "type": "quantitative", "scale": {"domain": [0, 1], "range": ["#ffffff", "#ef3b2c"]}, "legend": null}
        }
       }
      ]
     },
     {
      "spacing": 4,
      "title": {"text": "g", "anchor": "start", "frame": "group", "dx": -40, "offset": 0, "fontSize": 13, "fontWeight": "bold"},
      "resolve": {"scale": {"color": "independent"}, "legend": {"color": "independent"}},
      "vconcat": [
       {
        "width": 269, "height": 10,
        "title": {"text": "dd_Smes_v1_30475_1_1__orf453217971", "anchor": "middle", "frame": "group", "dx": 6, "fontSize": 11.5, "fontWeight": "normal", "offset": -3},
        "data": {"name": "prot2"},
        "mark": {"type": "bar", "size": 5, "cornerRadius": 2, "color": "#d0d0d0", "stroke": "#222", "strokeWidth": 0.8},
        "encoding": {
         "x": {"field": "s", "type": "quantitative", "scale": {"domain": [0, 450], "range": [22, 269], "nice": false, "zero": false},
          "axis": {"values": [0, 50, 100, 150, 200, 250, 300, 350, 400, 450], "labelExpr": "datum.value === 0 ? '0' : datum.value === 150 ? '150' : datum.value === 300 ? '250' : datum.value === 450 ? '450 aa' : ''", "labelAlign": {"condition": {"test": "datum.value === 450", "value": "left"}, "value": "center"}, "labelOffset": {"condition": {"test": "datum.value === 450", "value": -8}, "value": 0}, "labelOverlap": false, "offset": 1, "title": null, "domainColor": "#000", "tickColor": "#000", "tickSize": 4, "labelFontSize": 9, "labelPadding": 2, "labelColor": "#222", "grid": false}},
         "x2": {"field": "e"},
         "y": {"field": "track", "type": "nominal", "axis": null}
        }
       },
       {
        "width": 279, "height": 63,
        "encoding": {
         "x": {"type": "ordinal", "scale": {"type": "point", "padding": 0, "range": [22, 279]},
          "axis": {"labelAngle": 0, "grid": false, "domain": false, "tickColor": "#333", "tickSize": 3, "title": "Time [hours]", "labelFontSize": 9, "titleFontSize": 9, "labelPadding": 1, "titlePadding": 0, "labelColor": "#222"}},
         "y": {"type": "quantitative", "scale": {"domain": [-0.5, 2.0], "nice": false, "zero": false},
          "axis": {"values": [-0.5, 0, 0.5, 1, 1.5, 2], "format": ".1f", "grid": false, "domain": false, "offset": -22, "tickColor": "#333", "tickSize": 3, "title": "LogFC", "labelFontSize": 9, "titleFontSize": 9, "labelColor": "#222"}}
        },
        "layer": [
         {"data": {"name": "logfc"}, "mark": {"type": "rect", "color": "#e5e5e5"},
          "encoding": {"x": {"datum": 1, "type": "ordinal"}, "x2": {"datum": 120}, "y": {"datum": -0.5, "type": "quantitative"}, "y2": {"datum": 2.0}}
         },
         {"data": {"name": "logfc"}, "mark": {"type": "rule", "color": "white", "strokeWidth": 1.5},
          "encoding": {"x": {"field": "t", "type": "ordinal"}}
         },
         {"data": {"name": "lfy"}, "mark": {"type": "rule", "color": "white", "strokeWidth": 1.5},
          "encoding": {"y": {"field": "y", "type": "quantitative"}, "x": {"datum": 1, "type": "ordinal"}, "x2": {"datum": 120}}
         },
         {"data": {"name": "logfc"}, "mark": {"type": "line", "strokeWidth": 2.6},
          "encoding": {
           "x": {"field": "t", "type": "ordinal"},
           "y": {"field": "fc", "type": "quantitative"},
           "color": {"field": "s", "type": "nominal", "scale": {"domain": ["tail regeneration", "head regeneration"], "range": ["#2a2e8e", "#f01d1d"]},
            "legend": {"orient": "none", "legendX": 59, "legendY": -18, "direction": "horizontal", "title": null, "symbolType": "stroke", "symbolStrokeWidth": 4, "symbolSize": 100, "labelFontSize": 9, "columnPadding": 20, "labelColor": "#222"}}
          }
         }
        ]
       }
      ]
     }
    ]
   }
  ]
 }
]
}
